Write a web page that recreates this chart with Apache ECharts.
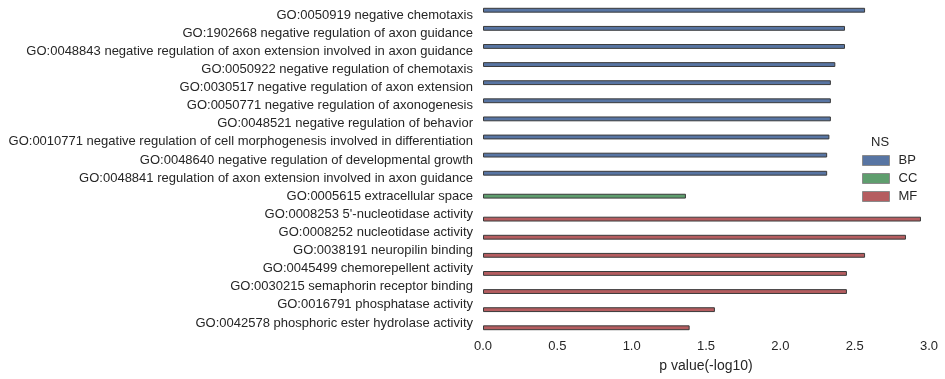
<!DOCTYPE html>
<html><head><meta charset="utf-8">
<script src="https://cdn.jsdelivr.net/npm/echarts@6/dist/echarts.min.js"></script>
<style>html,body{margin:0;padding:0;background:#fff}#c{width:945px;height:379px}</style>
</head><body><div id="c"></div>
<script>
const categories = [
  "GO:0050919 negative chemotaxis",
  "GO:1902668 negative regulation of axon guidance",
  "GO:0048843 negative regulation of axon extension involved in axon guidance",
  "GO:0050922 negative regulation of chemotaxis",
  "GO:0030517 negative regulation of axon extension",
  "GO:0050771 negative regulation of axonogenesis",
  "GO:0048521 negative regulation of behavior",
  "GO:0010771 negative regulation of cell morphogenesis involved in differentiation",
  "GO:0048640 negative regulation of developmental growth",
  "GO:0048841 regulation of axon extension involved in axon guidance",
  "GO:0005615 extracellular space",
  "GO:0008253 5'-nucleotidase activity",
  "GO:0008252 nucleotidase activity",
  "GO:0038191 neuropilin binding",
  "GO:0045499 chemorepellent activity",
  "GO:0030215 semaphorin receptor binding",
  "GO:0016791 phosphatase activity",
  "GO:0042578 phosphoric ester hydrolase activity"
];
const bpValues = [2.57, 2.435, 2.435, 2.37, 2.34, 2.34, 2.34, 2.33, 2.315, 2.315, null, null, null, null, null, null, null, null];
const ccValues = [null, null, null, null, null, null, null, null, null, null, 1.365, null, null, null, null, null, null, null];
const mfValues = [null, null, null, null, null, null, null, null, null, null, null, 2.946, 2.845, 2.57, 2.448, 2.448, 1.56, 1.39];
const seriesNames = ["BP", "CC", "MF"];
const xTicks = [0, 0.5, 1.0, 1.5, 2.0, 2.5, 3.0];

const colors = ["#5875a3", "#5f9e6e", "#b55d60"];
const font = "Liberation Sans, Arial, sans-serif";
const chart = echarts.init(document.getElementById('c'), null, {renderer: 'canvas'});
const mk = (name, data, i) => ({
  name, type: 'bar', data,
  barCategoryGap: '20%', barGap: '0%',
  itemStyle: {color: colors[i], borderColor: '#3a3a3a', borderWidth: 1},
  emphasis: {disabled: true}, animation: false
});
chart.setOption({
  animation: false,
  textStyle: {fontFamily: font},
  grid: {left: 483, right: 16, top: 6, bottom: 47, containLabel: false},
  title: {text: 'NS', left: 866, top: 131, textStyle: {fontFamily: font, fontSize: 13, fontWeight: 'normal', color: '#262626'}},
  legend: {
    data: seriesNames, orient: 'vertical', left: 857, top: 149,
    itemWidth: 27, itemHeight: 10, itemGap: 5,
    itemStyle: {borderColor: '#8a8a8a', borderWidth: 1},
    textStyle: {fontFamily: font, fontSize: 13, color: '#262626', padding: [0, 0, 0, 4]},
    icon: 'rect'
  },
  xAxis: {
    type: 'value', min: xTicks[0], max: xTicks[xTicks.length - 1], interval: 0.5,
    axisLine: {show: false}, axisTick: {show: false}, splitLine: {show: false},
    axisLabel: {formatter: v => v.toFixed(1), fontSize: 13, color: '#262626', margin: 8, fontFamily: font},
    name: 'p value(-log10)', nameLocation: 'middle', nameGap: 27,
    nameTextStyle: {fontSize: 14, color: '#262626', fontFamily: font}
  },
  yAxis: {
    type: 'category', data: categories, inverse: true,
    axisLine: {show: false}, axisTick: {show: false}, splitLine: {show: false},
    axisLabel: {fontSize: 13, color: '#262626', margin: 10, fontFamily: font}
  },
  series: [mk(seriesNames[0], bpValues, 0), mk(seriesNames[1], ccValues, 1), mk(seriesNames[2], mfValues, 2)]
});
</script></body></html>
